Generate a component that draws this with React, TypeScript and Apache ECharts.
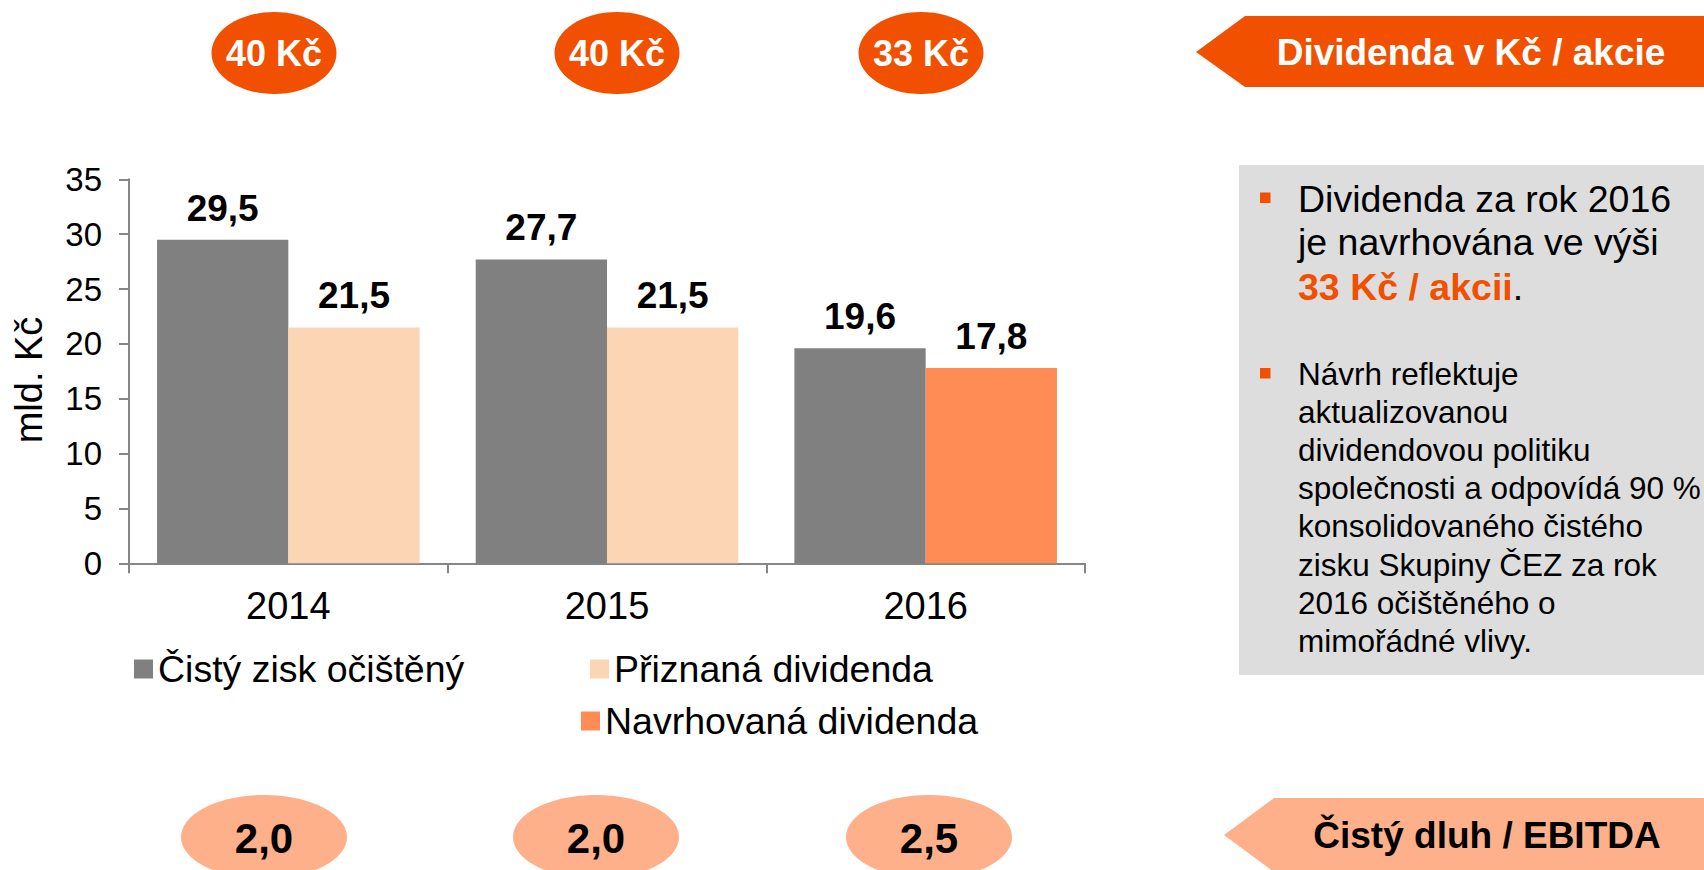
import React, { useEffect, useRef } from "react";
import * as echarts from "echarts";

const years = ["2014", "2015", "2016"];
const netProfitAdj = [29.5, 27.7, 19.6];
const approvedDividend: (number | string)[] = [21.5, 21.5, "-"];
const proposedDividend: (number | string)[] = ["-", "-", 17.8];
const seriesNames = ["Čistý zisk očištěný", "Přiznaná dividenda", "Navrhovaná dividenda"];
const yTicks = { min: 0, max: 35, interval: 5 };
const dividendPerShare = ["40 Kč", "40 Kč", "33 Kč"];
const netDebtEbitda = [2.0, 2.0, 2.5];
const para1Lines = ["Dividenda za rok 2016", "je navrhována ve výši"];
const para1Highlight = "33 Kč / akcii";
const para2Lines = [
  "Návrh reflektuje",
  "aktualizovanou",
  "dividendovou politiku",
  "společnosti a odpovídá 90 %",
  "konsolidovaného čistého",
  "zisku Skupiny ČEZ za rok",
  "2016 očištěného o",
  "mimořádné vlivy.",
];

const FONT = "'Liberation Sans', Arial, sans-serif";
const ORANGE = "#F05000";
const LIGHT = "#FDB08A";

const fmt = (v: number) => v.toFixed(1).replace(".", ",");

export default function App() {
  const ref = useRef<HTMLDivElement>(null);
  useEffect(() => {
    if (!ref.current) return;
    const chart = echarts.init(ref.current, undefined, { renderer: "svg" });

    const topX = [274, 617, 921];
    const botX = [264, 596, 929];

    const graphic: any[] = [];
    dividendPerShare.forEach((t, i) => {
      graphic.push({
        type: "ellipse",
        shape: { cx: topX[i], cy: 53, rx: 62.5, ry: 41 },
        style: { fill: ORANGE },
      });
      graphic.push({
        type: "text",
        x: topX[i],
        y: 53,
        style: {
          text: t,
          fill: "#fff",
          font: `bold 36px ${FONT}`,
          align: "center",
          verticalAlign: "middle",
        },
      });
    });
    netDebtEbitda.forEach((v, i) => {
      graphic.push({
        type: "ellipse",
        shape: { cx: botX[i], cy: 837, rx: 83, ry: 42 },
        style: { fill: LIGHT },
      });
      graphic.push({
        type: "text",
        x: botX[i],
        y: 838,
        style: {
          text: fmt(v),
          fill: "#000",
          font: `bold 42px ${FONT}`,
          align: "center",
          verticalAlign: "middle",
        },
      });
    });
    // top arrow banner
    graphic.push({
      type: "polygon",
      shape: { points: [[1704, 16], [1245, 16], [1196, 52], [1245, 87], [1704, 87]] },
      style: { fill: ORANGE },
    });
    graphic.push({
      type: "text",
      x: 1471,
      y: 52,
      style: {
        text: "Dividenda v Kč / akcie",
        fill: "#fff",
        font: `bold 37px ${FONT}`,
        align: "center",
        verticalAlign: "middle",
      },
    });
    // bottom arrow banner
    graphic.push({
      type: "polygon",
      shape: { points: [[1704, 798], [1274, 798], [1224, 835], [1274, 872], [1704, 872]] },
      style: { fill: LIGHT },
    });
    graphic.push({
      type: "text",
      x: 1487,
      y: 835,
      style: {
        text: "Čistý dluh / EBITDA",
        fill: "#000",
        font: `bold 37px ${FONT}`,
        align: "center",
        verticalAlign: "middle",
      },
    });
    // text box
    graphic.push({
      type: "rect",
      shape: { x: 1239, y: 165, width: 465, height: 510 },
      style: { fill: "#DDDDDD" },
    });
    graphic.push({ type: "rect", shape: { x: 1260, y: 192.5, width: 10.5, height: 10.5 }, style: { fill: ORANGE } });
    graphic.push({ type: "rect", shape: { x: 1260, y: 368, width: 10.5, height: 10.5 }, style: { fill: ORANGE } });
    const p1Y = [199, 242, 286.5];
    para1Lines.forEach((l, i) => {
      graphic.push({
        type: "text",
        x: 1298,
        y: p1Y[i],
        style: { text: l, fill: "#000", font: `37.5px ${FONT}`, align: "left", verticalAlign: "middle" },
      });
    });
    graphic.push({
      type: "text",
      x: 1298,
      y: p1Y[2],
      style: {
        text: `{o|${para1Highlight}}{b|.}`,
        align: "left",
        verticalAlign: "middle",
        rich: {
          o: { fill: ORANGE, fontWeight: "bold", fontSize: 37.5, fontFamily: FONT },
          b: { fill: "#000", fontSize: 37.5, fontFamily: FONT },
        },
      },
    });
    graphic.push({
      type: "text",
      x: 1298,
      y: 354.5,
      style: {
        text: para2Lines.join("\n"),
        fill: "#000",
        font: `31.5px ${FONT}`,
        lineHeight: 38.2,
        align: "left",
        verticalAlign: "top",
      },
    });
    // y axis title
    graphic.push({
      type: "text",
      x: 29,
      y: 380,
      rotation: Math.PI / 2,
      style: {
        text: "mld. Kč",
        fill: "#000",
        font: `38px ${FONT}`,
        align: "center",
        verticalAlign: "middle",
      },
    });

    const label = {
      show: true,
      position: "top",
      distance: 13,
      fontSize: 37,
      fontWeight: "bold",
      color: "#000",
      fontFamily: FONT,
      formatter: (p: any) => fmt(Number(p.value)),
    };

    const legendBase = {
      icon: "rect",
      itemWidth: 19,
      itemHeight: 19,
      padding: 0,
      textStyle: { fontSize: 37.5, color: "#000", fontFamily: FONT },
    };

    chart.setOption({
      animation: false,
      textStyle: { fontFamily: FONT },
      grid: { left: 129, right: 619, top: 179.3, bottom: 306.7, containLabel: false },
      legend: [
        { ...legendBase, data: [seriesNames[0]], left: 134, top: 650 },
        { ...legendBase, data: [seriesNames[1]], left: 590, top: 650 },
        { ...legendBase, data: [seriesNames[2]], left: 581, top: 702 },
      ],
      xAxis: {
        type: "category",
        data: years,
        axisLine: { show: true, lineStyle: { color: "#868686", width: 2 } },
        axisTick: { show: true, length: 10, lineStyle: { color: "#868686", width: 2 } },
        axisLabel: { fontSize: 38, color: "#000", margin: 24 },
      },
      yAxis: {
        type: "value",
        min: yTicks.min,
        max: yTicks.max,
        interval: yTicks.interval,
        axisLine: { show: true, lineStyle: { color: "#868686", width: 2 } },
        axisTick: { show: true, length: 10, lineStyle: { color: "#868686", width: 2 } },
        axisLabel: { fontSize: 33, color: "#000", margin: 27 },
        splitLine: { show: false },
      },
      series: [
        {
          name: seriesNames[0],
          type: "bar",
          data: netProfitAdj,
          itemStyle: { color: "#808080" },
          barGap: "0%",
          barCategoryGap: "17.6%",
          label,
        },
        {
          name: seriesNames[1],
          type: "bar",
          stack: "div",
          data: approvedDividend,
          itemStyle: { color: "#FCD5B5" },
          barGap: "0%",
          barCategoryGap: "17.6%",
          label,
        },
        {
          name: seriesNames[2],
          type: "bar",
          stack: "div",
          data: proposedDividend,
          itemStyle: { color: "#FF8B55" },
          barGap: "0%",
          barCategoryGap: "17.6%",
          label,
        },
      ],
      graphic,
    });
    return () => chart.dispose();
  }, []);
  return (
    <div
      ref={ref}
      style={{ position: "fixed", left: 0, top: 0, width: 1704, height: 870, background: "#fff" }}
    />
  );
}
